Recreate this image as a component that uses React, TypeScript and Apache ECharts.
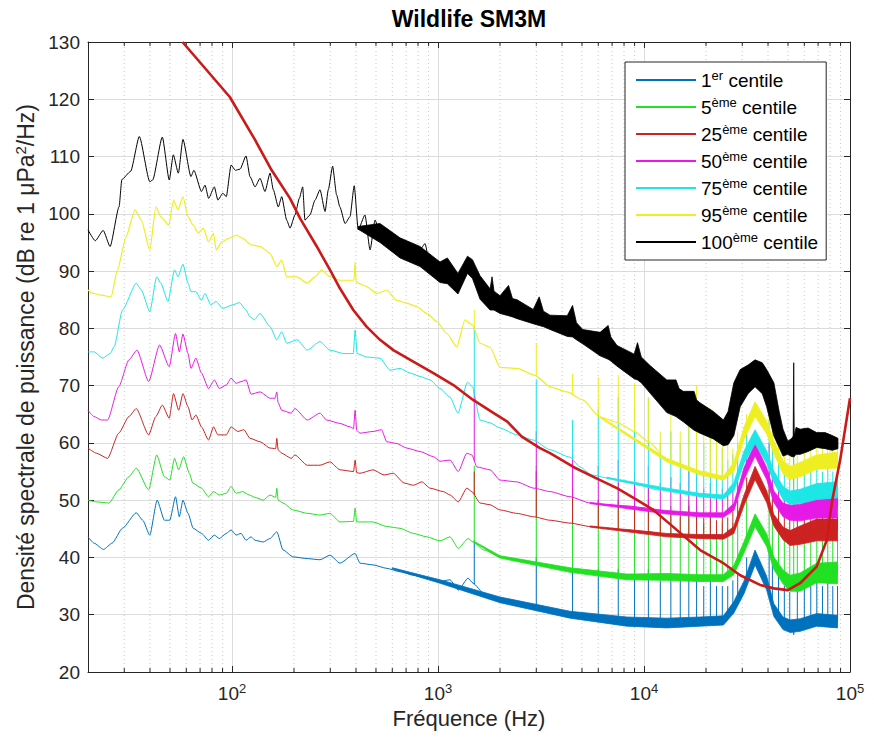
import React, { useEffect, useRef } from 'react';
import * as echarts from 'echarts';

const FONT = '"Liberation Sans", Arial, Helvetica, sans-serif';
const AXIS_COLOR = '#262626';
const TITLE = 'Wildlife SM3M';
const X_NAME = 'Fréquence (Hz)';
const Y_NAME_MAIN = 'Densité spectrale de puissance (dB re 1 μPa';
const Y_NAME_SUP = '2';
const Y_NAME_END = '/Hz)';
const Y_MIN = 20;
const Y_MAX = 130;
const Y_STEP = 10;
const X_MIN = 20;
const X_MAX = 100000;

const SERIES_NAMES = ['1er centile', '5ème centile', '25ème centile', '50ème centile', '75ème centile', '95ème centile', '100ème centile'];
const LEGEND_NUM = ['1', '5', '25', '50', '75', '95', '100'];
const LEGEND_SUP = ['er', 'ème', 'ème', 'ème', 'ème', 'ème', 'ème'];
const COLORS = ['#0072bd', '#22e022', '#cc2222', '#e619e6', '#1ee6e6', '#eeee22', '#000000'];
const REF_COLOR = '#cc1a1a';

// minor (dotted) x grid positions, Hz
const MINOR_HZ = [30, 40, 50, 60, 70, 80, 90, 200, 300, 400, 500, 600, 700, 800, 900,
  2000, 3000, 4000, 5000, 6000, 7000, 8000, 9000, 20000, 30000, 40000, 50000, 60000, 70000, 80000, 90000];

// 1st centile [Hz, dB]
const P1 = [[20, 43.6], [21.4, 42.5], [23.8, 41.4], [26.2, 42.5], [29.4, 45.1], [34.3, 47.8], [36.9, 46.5], [39.9, 43.9], [43.3, 50.0], [47.0, 46.5], [49.9, 46.5], [53.2, 50.6], [55.5, 47.1], [57.8, 50.0], [61.2, 47.7], [64.8, 45.1], [71.1, 44.2], [76.9, 43.0], [82.1, 43.9], [86.8, 43.3], [93.8, 44.2], [99.0, 44.8], [104.7, 43.9], [110.6, 44.2], [117, 43.0], [123.7, 43.6], [129.4, 43.0], [141.6, 42.7], [153, 43.3], [165, 44.5], [177, 41.3], [198, 40.1], [232, 39.8], [267.5, 39.6], [299, 40.4], [334, 39.0], [396, 40.7], [418, 39.0], [484, 38.7], [564, 38.1], [654, 37.5], [759, 36.9], [882, 36.4], [1023, 35.8], [1144, 36.1], [1255, 34.3], [1400, 36.4], [1480, 35.5], [1670, 33.7], [2000, 32.6], [2410, 32.0], [2920, 31.1], [3498, 30.5], [4375, 30.0], [5472, 29.4], [6580, 29.1], [8260, 28.8], [10500, 28.5], [12900, 28.5], [18720, 28.8], [24300, 29.0], [27300, 31.3], [30600, 34.8], [34600, 40.0], [39400, 35.5], [42700, 30.8], [47300, 28.5], [51200, 28.0], [53000, 27.9], [53300, 26.5], [53600, 27.9], [57270, 28.2], [68900, 29.1], [87000, 28.8]];
// 5th centile
const P5 = [[20, 50.0], [22.0, 49.7], [25.3, 49.5], [28.2, 51.8], [31.6, 54.1], [34.3, 55.6], [39.4, 51.8], [43.1, 57.9], [47.0, 54.1], [49.9, 53.5], [52.6, 57.3], [55.1, 55.3], [58.2, 57.6], [62.1, 54.7], [64.5, 53.0], [71.1, 52.1], [76.9, 50.6], [81.4, 51.5], [86.8, 50.9], [93.8, 51.2], [99.0, 52.4], [104.7, 51.2], [112.6, 51.5], [121.3, 50.9], [129.4, 50.5], [141.6, 50.0], [153, 50.9], [163, 50.5], [165, 52.1], [167.5, 50.0], [177, 49.5], [198, 48.3], [232, 47.7], [267.5, 47.4], [299, 47.7], [334, 46.2], [389, 46.3], [396, 48.6], [403, 46.2], [484, 46.2], [564, 45.4], [654, 45.1], [759, 44.2], [882, 43.6], [1023, 42.9], [1144, 43.6], [1255, 41.6], [1400, 43.3], [1480, 42.7], [1670, 41.3], [2000, 40.1], [2410, 39.6], [2920, 39.0], [3498, 38.4], [4375, 37.8], [5472, 37.2], [6580, 36.9], [8260, 36.6], [10500, 36.6], [12900, 36.6], [18720, 36.4], [24300, 36.4], [27300, 37.8], [30600, 41.8], [34600, 46.5], [39400, 43.0], [42700, 39.0], [47300, 36.6], [51200, 35.5], [57270, 35.7], [68900, 37.3], [87000, 37.3]];
// 25th centile
const P25 = [[20, 59.1], [22.0, 58.2], [24.9, 57.3], [28.2, 61.7], [31.6, 64.6], [34.3, 66.0], [39.4, 61.4], [42.7, 64.6], [45.9, 66.6], [49.6, 64.3], [52.0, 68.6], [55.1, 65.7], [57.8, 68.6], [61.2, 66.3], [64.0, 64.0], [66.8, 64.9], [71.1, 62.8], [76.9, 60.5], [81.4, 62.8], [85.4, 61.4], [93.8, 61.4], [99.0, 62.8], [106.8, 62.0], [114.2, 62.3], [122.3, 60.8], [136.8, 60.2], [153, 59.1], [163, 59.0], [165, 60.8], [167.5, 58.8], [174.3, 58.2], [194, 57.3], [202, 57.9], [232, 56.1], [267.5, 56.1], [299, 56.7], [334, 55.3], [389, 55.0], [396, 57.0], [403, 54.8], [418, 54.7], [484, 55.3], [547, 54.4], [607, 54.7], [685, 53.0], [759, 52.6], [836, 53.2], [915, 52.1], [1061, 51.5], [1144, 50.9], [1255, 49.7], [1380, 52.1], [1460, 51.5], [1600, 49.5], [1790, 49.2], [2000, 48.3], [2410, 47.7], [2920, 47.1], [3498, 46.5], [4375, 46.0], [5472, 45.4], [6580, 45.1], [8260, 44.8], [10500, 44.5], [12900, 43.9], [18720, 43.6], [24300, 43.6], [27300, 44.8], [30600, 50.0], [34600, 54.7], [39400, 50.6], [42700, 46.5], [47300, 44.2], [51200, 43.4], [57270, 43.9], [68900, 44.8], [87000, 44.8]];
// 50th centile
const P50 = [[20, 65.7], [21.4, 64.6], [23.2, 64.0], [24.9, 64.0], [28.2, 69.8], [31.6, 74.5], [34.6, 76.2], [39.4, 70.7], [44.5, 77.1], [49.6, 73.3], [53.2, 79.1], [55.5, 75.9], [57.8, 79.0], [61.2, 75.6], [63.2, 73.0], [66.8, 74.8], [71.1, 72.2], [76.9, 69.5], [82.1, 71.0], [86.8, 69.5], [93.8, 70.1], [99.0, 71.3], [104.7, 70.4], [110.6, 70.7], [117, 71.0], [123.7, 68.5], [136.8, 68.9], [153, 67.8], [161.8, 67.8], [165, 68.9], [167.5, 67.0], [174.3, 65.7], [194, 65.2], [202, 66.0], [232, 64.0], [267.5, 65.2], [288, 64.0], [334, 63.4], [374, 62.8], [389, 62.5], [396, 65.7], [403, 62.2], [418, 61.7], [484, 62.0], [532, 62.3], [564, 60.2], [630, 59.9], [705, 59.1], [818, 58.5], [950, 57.6], [1023, 56.8], [1144, 57.0], [1255, 55.0], [1380, 58.2], [1460, 57.9], [1545, 55.8], [1790, 55.3], [2000, 53.5], [2410, 53.2], [2920, 52.1], [3498, 51.5], [4375, 50.6], [5472, 49.5], [6580, 49.2], [8260, 49.0], [10500, 48.6], [12900, 47.9], [18720, 47.4], [24300, 47.4], [27300, 48.8], [30600, 54.7], [34600, 58.8], [39400, 54.7], [42700, 50.6], [47300, 48.3], [51200, 47.8], [57270, 47.8], [68900, 48.6], [87000, 48.8]];
// 75th centile
const P75 = [[20, 75.9], [21.4, 75.9], [23.6, 74.8], [25.6, 75.6], [26.8, 76.8], [29.4, 83.2], [34.3, 87.9], [36.3, 86.7], [39.9, 82.9], [43.1, 89.0], [45.1, 87.9], [48.9, 84.7], [52.6, 90.2], [54.7, 89.0], [57.8, 91.2], [61.2, 87.9], [63.2, 86.4], [66.8, 86.4], [71.1, 84.9], [74.0, 86.1], [78.9, 84.1], [83.5, 84.7], [90.3, 83.5], [100.8, 84.1], [108.7, 84.5], [117, 83.2], [122.3, 82.0], [128.4, 81.5], [136.8, 82.6], [153, 80.3], [165, 78.0], [174.3, 79.4], [184.3, 77.4], [207, 78.0], [232, 76.2], [267.5, 77.7], [299, 76.2], [349, 75.6], [388, 75.6], [396, 79.7], [405, 75.6], [450, 75.0], [523, 74.8], [585, 72.7], [654, 73.0], [732, 72.2], [818, 71.6], [915, 71.0], [1023, 69.5], [1144, 68.0], [1250, 65.2], [1390, 70.6], [1470, 69.8], [1600, 64.0], [1790, 63.5], [2000, 62.6], [2420, 61.4], [2900, 60.5], [3498, 58.8], [4375, 57.5], [4893, 55.8], [5570, 54.4], [6600, 53.9], [8280, 53.2], [9570, 52.6], [11600, 51.8], [12900, 51.8], [18720, 50.9], [24300, 50.6], [27300, 52.3], [30600, 57.5], [34600, 61.0], [39400, 57.5], [42700, 54.0], [47300, 51.2], [51200, 50.4], [57270, 50.6], [68900, 51.4], [87000, 51.8]];
// 95th centile
const P95 = [[20, 86.7], [21.1, 86.1], [23.2, 85.8], [25.9, 85.5], [27.8, 90.2], [30.6, 96.0], [33.8, 100.7], [36.3, 98.9], [39.9, 93.7], [42.7, 101.2], [45.1, 99.5], [49.3, 98.0], [52.0, 102.4], [54.7, 100.7], [57.8, 103.0], [61.2, 99.5], [64.8, 98.0], [68.6, 96.6], [72.6, 97.5], [76.9, 95.1], [81.4, 96.6], [83.8, 93.7], [89.3, 95.1], [96.1, 95.7], [105.3, 96.3], [112.6, 95.7], [123.7, 94.6], [136.8, 94.3], [153, 93.1], [165, 90.8], [174.3, 91.9], [184.3, 89.0], [207, 89.0], [232, 87.9], [253, 89.0], [272, 90.2], [299, 89.0], [334, 88.4], [374, 88.4], [391, 88.4], [396, 91.6], [400, 88.2], [410, 87.9], [450, 87.3], [504, 86.1], [564, 86.7], [630, 84.9], [705, 84.4], [788, 83.8], [882, 82.6], [986, 81.2], [1103, 79.1], [1233, 76.8], [1353, 81.5], [1431, 80.8], [1470, 80.6], [1600, 77.4], [1790, 76.7], [2000, 73.2], [2420, 73.0], [2958, 71.8], [3498, 69.8], [4240, 68.9], [5040, 67.5], [6119, 64.5], [7400, 63.6], [8960, 62.0], [10700, 60.0], [12900, 57.0], [15500, 55.7], [18720, 54.7], [24300, 53.8], [27300, 55.8], [30600, 61.7], [34600, 65.7], [39400, 62.8], [42700, 59.3], [47300, 55.8], [51200, 54.7], [57270, 55.3], [68900, 56.7], [87000, 57.0]];
// 100th centile (low-frequency part; the high-frequency part is the band below)
const P100 = [[20, 97.2], [21.7, 95.3], [23.7, 97.1], [25.6, 94.3], [28.3, 101.2], [29.2, 106.0], [32.2, 107.4], [35.5, 113.5], [39.9, 105.6], [41.2, 105.9], [45.9, 113.4], [49.6, 105.9], [51.9, 110.3], [54.9, 107.1], [57.8, 113.0], [63.2, 106.5], [65.3, 107.6], [71.1, 103.9], [74.0, 105.0], [77.0, 102.7], [82.1, 104.7], [85.4, 102.4], [90.3, 103.6], [93.8, 103.0], [99.0, 108.5], [103.9, 107.6], [109.4, 107.8], [117, 110.1], [122.3, 106.5], [129.4, 104.7], [136.8, 106.2], [144.6, 103.9], [153, 107.1], [158.7, 104.2], [167.8, 101.2], [174.3, 103.0], [184.3, 98.9], [191.3, 97.5], [202.3, 99.8], [212.2, 102.7], [220.4, 104.7], [226, 98.9], [239, 99.8], [253, 102.4], [267.5, 104.2], [283, 100.4], [293.4, 104.2], [308, 108.3], [322, 103.3], [334, 101.2], [354, 98.3], [374, 99.5], [392, 104.9], [410, 97.2], [442, 99.8], [468, 93.7], [495, 98.9], [523, 96.6], [564, 95.4], [607, 96.0], [654, 93.1], [705, 94.3], [759, 92.5], [818, 93.7], [865, 94.8], [915, 90.8], [986, 91.4], [1061, 89.6], [1144, 90.8]];

// thick red reference curve
const REF_CURVE = [[57.5, 130], [97.6, 120.4], [129.4, 112.9], [155.9, 107.6], [191.3, 102.7], [214, 99.2], [258, 94.3], [299, 90.2], [334, 87.0], [388, 83.2], [450, 80.3], [523, 78.0], [607, 76.2], [759, 74.2], [950, 72.2], [1188, 70.1], [1480, 67.5], [1865, 65.2], [2170, 63.7], [2550, 61.1], [3128, 59.1], [3498, 58.2], [4540, 55.8], [5880, 53.8], [7390, 52.1], [9280, 50.0], [11100, 48.3], [12900, 46.3], [18720, 41.3], [24300, 39.0], [29300, 36.9], [36600, 35.2], [42700, 34.6], [49900, 34.3], [57270, 35.5], [68900, 38.4], [77100, 43.0], [82000, 50.0], [89570, 57.0], [100000, 67.8]];

// noisy bands [Hz, low dB, high dB]
const BAND_P1 = [[600, 38.0, 38.2], [1023, 35.5, 36.1], [2000, 32.1, 33.1], [4375, 29.4, 30.6], [8260, 28.0, 29.6], [12900, 27.7, 29.4], [18720, 28, 29.6], [24300, 28.2, 29.8], [27300, 30.3, 32.3], [30600, 33.7, 35.9], [34600, 38.7, 41.3], [39400, 34.3, 36.7], [42700, 29.7, 31.9], [47300, 27.4, 29.6], [51200, 26.9, 29.1], [57300, 27.1, 29.3], [68900, 28, 30.2], [87000, 27.7, 29.9]];
const BAND_P5 = [[1500, 42.6, 42.8], [2000, 39.9, 40.3], [4375, 37.4, 38.2], [8260, 36.1, 37.1], [12900, 36, 37.2], [18720, 35.8, 37], [24300, 35.8, 37], [27300, 37, 38.6], [30600, 40.8, 42.8], [34600, 45.4, 47.6], [39400, 41.9, 44.1], [42700, 37.9, 40.1], [47300, 35.4, 37.8], [51200, 34.1, 36.9], [57300, 34.1, 37.3], [68900, 35.6, 39], [87000, 35.4, 39.2]];
const BAND_P25 = [[5472, 45.3, 45.5], [12900, 43.6, 44.2], [18720, 43.3, 44], [24300, 43.2, 44], [27300, 44.2, 45.4], [30600, 49.1, 50.9], [34600, 53.6, 55.9], [39400, 49.6, 51.6], [42700, 45.5, 47.5], [47300, 43.1, 45.3], [51200, 42.1, 44.7], [57300, 42.3, 45.5], [68900, 42.9, 46.7], [87000, 42.9, 46.7]];
const BAND_P50 = [[5472, 49.4, 49.6], [12900, 47.6, 48.2], [18720, 47.1, 47.8], [24300, 47, 47.8], [27300, 48.2, 49.4], [30600, 53.6, 55.7], [34600, 57.7, 59.9], [39400, 53.6, 55.7], [42700, 49.6, 51.6], [47300, 47.1, 49.5], [51200, 46.5, 49.1], [57300, 46.4, 49.3], [68900, 46.9, 50.4], [87000, 46.9, 50.7]];
const BAND_P75 = [[6600, 53.8, 54.0], [12900, 51.6, 52.1], [18720, 50.6, 51.2], [24300, 50.2, 50.9], [27300, 51.6, 53.1], [30600, 56.4, 58.6], [34600, 59.9, 62.3], [39400, 56.4, 58.6], [42700, 53.1, 55.1], [47300, 50.1, 52.4], [51200, 49.3, 51.6], [57300, 49.4, 51.9], [68900, 50.1, 52.9], [87000, 50.4, 53.2]];
const BAND_P95 = [[6119, 64.4, 64.6], [12900, 56.7, 57.3], [18720, 54.4, 55.1], [24300, 53.5, 54.2], [27300, 55, 56.6], [30600, 60.6, 62.8], [34600, 64.6, 67.2], [39400, 61.6, 63.8], [42700, 58.1, 60.4], [47300, 54.6, 56.9], [51200, 53.6, 55.9], [57300, 54.1, 56.6], [68900, 55.4, 57.9], [87000, 55.6, 58.4]];
const BAND_P100 = [[410, 97.3, 97.8], [523, 95, 98.3], [654, 92.3, 95.8], [818, 90.8, 94.3], [1023, 88, 91.6], [1110, 87.8, 92.3], [1250, 86, 89.6], [1390, 89.6, 92.6], [1470, 88.7, 92], [1600, 85.1, 89.2], [1790, 83.2, 86.9], [1830, 83.2, 89], [1870, 83.2, 86.5], [2000, 82.6, 85.7], [2200, 82.2, 87.5], [2300, 82, 85.2], [2420, 81.7, 85], [2900, 80.8, 83.3], [3100, 80.5, 85.5], [3250, 80.3, 83], [3500, 79.8, 82.3], [4240, 78.6, 82.2], [4500, 78.5, 84], [4700, 78, 81], [5040, 77.3, 79.8], [6120, 75.2, 79.3], [6700, 74.6, 80.5], [6900, 74.3, 78.5], [7400, 73.4, 77], [8960, 71.2, 75.5], [9300, 71, 77.5], [9700, 70.5, 75], [10700, 68.7, 73.5], [12900, 65.3, 71], [14300, 64.6, 71], [14800, 64.2, 69.5], [15500, 63.7, 69], [17500, 62.2, 69], [18000, 62, 67.5], [18700, 61.7, 67], [21700, 60.7, 65.5], [24300, 59.5, 64], [25600, 59.7, 65.5], [27300, 61.3, 70.5], [29300, 66.3, 72.8], [32000, 68.6, 73.6], [34600, 69.8, 74.5], [37500, 68.6, 74], [39400, 66.3, 72.8], [42700, 61.2, 70.5], [45300, 59.2, 65.5], [47300, 57.7, 62.4], [49900, 58, 60.3], [52200, 57.6, 60.8], [53000, 57.6, 61.2], [53300, 57.6, 74], [53600, 57.6, 61.2], [54700, 58, 62.7], [57300, 58, 62.4], [62600, 58.5, 62.6], [68900, 59.2, 61.8], [75700, 59, 61.8], [82000, 58.7, 61.3], [87400, 59, 60.8]];

// narrow tonal lines (1.5 kHz harmonics) and their top levels per centile
const HARMONICS_HZ = [1500, 3000, 4500, 6000, 7500, 9000, 10500, 12000, 13500, 15000, 16500, 18000, 19500, 21000, 22500, 24000, 25500, 27000, 28500, 31500, 40500, 42000, 45000, 48000, 51000, 55500, 60000, 64500, 69000, 73500, 78000, 82500, 87000];
const TOPS_P1 = [43, 40, 39, 38, 38, 37, 38, 36, 37, 36, 37, 37, 35, 36, 35, 35, 35, 36, 37, 40, 42, 40, 37, 35, 34, 35, 36, 35, 36, 35, 36, 35, 35];
const TOPS_P5 = [56, 56, 52, 50, 53, 50, 52, 47, 49, 47, 50, 49, 46, 48, 45, 46, 45, 46, 47, 50, 52, 49, 46, 44, 43, 43, 44, 43, 44, 43, 44, 43, 43];
const TOPS_P25 = [55, 55, 52, 50, 50, 49, 50, 48, 48, 48, 49, 48, 47, 48, 46.5, 47, 47, 48, 50, 54, 55, 52, 49, 47, 47, 47, 48, 47, 48, 47, 48, 47, 47];
const TOPS_P50 = [69, 62, 58, 56, 57, 55, 56, 53, 54, 53, 55, 54, 52, 53, 51, 52, 51, 52, 54, 58, 60, 57, 54, 52, 51, 51, 52, 51, 52, 51, 52, 51, 51];
const TOPS_P75 = [80.3, 71, 64, 66, 68, 66, 67.8, 60, 62, 60, 64, 66, 60, 62, 58, 59, 57, 58, 60, 63, 64, 62, 58, 56, 55, 55, 56, 55, 56, 55, 56, 55, 55];
const TOPS_P95 = [83.2, 77.4, 72, 71.5, 71.9, 70.5, 68, 62, 65, 62, 67, 70, 64, 66, 62, 63, 60, 59, 62, 65, 68, 66, 63, 61, 59, 60, 61, 60, 61, 60, 61, 60, 60];
const EXTRA_P5_LINE = [53300, 62];

function valueAt(pts: number[][], f: number): number {
  if (f <= pts[0][0]) return pts[0][1];
  for (let i = 1; i < pts.length; i++) {
    if (f <= pts[i][0]) {
      const [f0, v0] = pts[i - 1];
      const [f1, v1] = pts[i];
      const t = (Math.log(f) - Math.log(f0)) / (Math.log(f1) - Math.log(f0));
      return v0 + t * (v1 - v0);
    }
  }
  return pts[pts.length - 1][1];
}

function lineSeries(name: string | undefined, data: number[][], color: string, width: number, smooth: number) {
  return {
    type: 'line', name, data, showSymbol: false, symbol: 'none', silent: true,
    smooth, smoothMonotone: 'x',
    lineStyle: { color, width }, itemStyle: { color }, clip: true, z: 2,
  };
}

function bandSeries(band: number[][], color: string) {
  return {
    type: 'custom', coordinateSystem: 'cartesian2d', silent: true, clip: true, z: 2,
    data: [[band[0][0], band[0][1]]], encode: { x: 0, y: 1 },
    renderItem: (_p: any, api: any) => {
      const up = band.map((b) => api.coord([b[0], b[2]]));
      const dn = band.slice().reverse().map((b) => api.coord([b[0], b[1]]));
      return { type: 'polygon', shape: { points: up.concat(dn) }, style: { fill: color, stroke: color, lineWidth: 0.8 } };
    },
  };
}

function spikeSeries(line: number[][], freqs: number[], tops: number[], color: string) {
  const data = freqs.map((f, i) => [f, valueAt(line, f), tops[i]]).filter((d) => d[2] > d[1] + 0.3);
  return {
    type: 'custom', coordinateSystem: 'cartesian2d', silent: true, clip: true, z: 2,
    data, encode: { x: 0, y: [1, 2] },
    renderItem: (_p: any, api: any) => {
      const a = api.coord([api.value(0), api.value(1)]);
      const b = api.coord([api.value(0), api.value(2)]);
      return { type: 'line', shape: { x1: a[0], y1: a[1], x2: b[0], y2: b[1] }, style: { stroke: color, lineWidth: 1 } };
    },
  };
}

function minorGridSeries() {
  return {
    type: 'custom', coordinateSystem: 'cartesian2d', silent: true, z: 1,
    data: MINOR_HZ.map((f) => [f, Y_MIN]), encode: { x: 0, y: 1 },
    renderItem: (_p: any, api: any) => {
      const b = api.coord([api.value(0), Y_MIN]);
      const t = api.coord([api.value(0), Y_MAX]);
      return {
        type: 'group',
        children: [
          { type: 'line', shape: { x1: b[0], y1: b[1], x2: t[0], y2: t[1] }, style: { stroke: '#c8c8c8', lineWidth: 1, lineDash: [1, 3] } },
          { type: 'line', shape: { x1: b[0], y1: b[1], x2: b[0], y2: b[1] - 4 }, style: { stroke: AXIS_COLOR, lineWidth: 1 } },
          { type: 'line', shape: { x1: t[0], y1: t[1], x2: t[0], y2: t[1] + 4 }, style: { stroke: AXIS_COLOR, lineWidth: 1 } },
        ],
      };
    },
  };
}

function buildOption() {
  const lines = [P1, P5, P25, P50, P75, P95];
  const bands = [BAND_P1, BAND_P5, BAND_P25, BAND_P50, BAND_P75, BAND_P95];
  const tops = [TOPS_P1, TOPS_P5, TOPS_P25, TOPS_P50, TOPS_P75, TOPS_P95];
  const series: any[] = [minorGridSeries()];
  lines.forEach((ln, i) => {
    series.push(lineSeries(SERIES_NAMES[i], ln, COLORS[i], i === 5 ? 1.2 : 1, 0.2));
    series.push(bandSeries(bands[i], COLORS[i]));
    series.push(spikeSeries(ln, HARMONICS_HZ, tops[i], COLORS[i]));
    if (i === 1) series.push(spikeSeries(ln, [EXTRA_P5_LINE[0]], [EXTRA_P5_LINE[1]], COLORS[i]));
  });
  series.push(lineSeries(SERIES_NAMES[6], P100, COLORS[6], 1, 0.2));
  series.push(bandSeries(BAND_P100, COLORS[6]));
  series.push(lineSeries(undefined, REF_CURVE, REF_COLOR, 2.6, 0));

  const axisLine = { show: true, onZero: false, lineStyle: { color: AXIS_COLOR, width: 1 } };
  const axisTick = { show: true, inside: true, length: 6, lineStyle: { color: AXIS_COLOR, width: 1 } };
  const sup = { fontFamily: FONT, color: AXIS_COLOR };

  return {
    animation: false,
    backgroundColor: '#ffffff',
    title: {
      text: TITLE, left: 469, top: 7, textAlign: 'center', padding: 0,
      textStyle: { fontFamily: FONT, fontSize: 23, fontWeight: 'bold', color: '#000' },
    },
    grid: { left: 88, top: 42, right: 24, bottom: 66, containLabel: false, outerBoundsMode: 'none' },
    legend: {
      data: SERIES_NAMES, orient: 'vertical', left: 625, top: 62, icon: 'rect',
      padding: [7, 8, 7, 11], itemWidth: 60, itemHeight: 2, itemGap: 5,
      backgroundColor: '#ffffff', borderColor: AXIS_COLOR, borderWidth: 1, borderRadius: 0,
      selectedMode: false,
      formatter: (name: string) => {
        const i = SERIES_NAMES.indexOf(name);
        return `{n|${LEGEND_NUM[i]}}{s|${LEGEND_SUP[i]}}{n| centile}`;
      },
      textStyle: {
        fontFamily: FONT, fontSize: 19, color: '#000', lineHeight: 22,
        rich: {
          n: { fontFamily: FONT, fontSize: 19, color: '#000', lineHeight: 22 },
          s: { fontFamily: FONT, fontSize: 13, color: '#000', lineHeight: 6, verticalAlign: 'top' },
        },
      },
    },
    xAxis: [
      {
        type: 'log', logBase: 10, min: X_MIN, max: X_MAX, position: 'bottom',
        name: X_NAME, nameLocation: 'middle', nameGap: 35,
        nameTextStyle: { fontFamily: FONT, fontSize: 22, color: AXIS_COLOR },
        axisLine, axisTick,
        axisLabel: {
          margin: 10, fontFamily: FONT, fontSize: 19, color: AXIS_COLOR,
          formatter: (v: number) => {
            const e = Math.log10(v);
            const n = Math.round(e);
            return Math.abs(e - n) < 1e-3 ? `{b|10}{s|${n}}` : '';
          },
          rich: {
            b: { ...sup, fontSize: 19, lineHeight: 22 },
            s: { ...sup, fontSize: 13, lineHeight: 6, verticalAlign: 'top' },
          },
        },
        splitLine: { show: true, lineStyle: { color: '#dcdcdc', width: 1 } },
      },
      {
        type: 'log', logBase: 10, min: X_MIN, max: X_MAX, position: 'top',
        axisLine, axisTick, axisLabel: { show: false }, splitLine: { show: false },
      },
    ],
    yAxis: [
      {
        type: 'value', min: Y_MIN, max: Y_MAX, interval: Y_STEP, position: 'left',
        name: `{t|${Y_NAME_MAIN}}{s|${Y_NAME_SUP}}{t|${Y_NAME_END}}`,
        nameLocation: 'middle', nameGap: 48, nameRotate: 90,
        nameTextStyle: {
          fontFamily: FONT, fontSize: 23, color: AXIS_COLOR,
          rich: {
            t: { ...sup, fontSize: 23, lineHeight: 26 },
            s: { ...sup, fontSize: 15, lineHeight: 8, verticalAlign: 'top' },
          },
        },
        axisLine, axisTick,
        axisLabel: { margin: 8, fontFamily: FONT, fontSize: 19, color: AXIS_COLOR },
        splitLine: { show: true, lineStyle: { color: '#dcdcdc', width: 1 } },
      },
      {
        type: 'value', min: Y_MIN, max: Y_MAX, interval: Y_STEP, position: 'right',
        axisLine, axisTick, axisLabel: { show: false }, splitLine: { show: false },
      },
    ],
    series,
  };
}

export default function App() {
  const ref = useRef<HTMLDivElement>(null);
  useEffect(() => {
    const chart = echarts.init(ref.current as HTMLDivElement, undefined, { renderer: 'svg' });
    chart.setOption(buildOption() as any);
    return () => chart.dispose();
  }, []);
  return (
    <div
      ref={ref}
      style={{ position: 'absolute', left: 0, top: 0, width: 874, height: 738, background: '#ffffff' }}
    />
  );
}
